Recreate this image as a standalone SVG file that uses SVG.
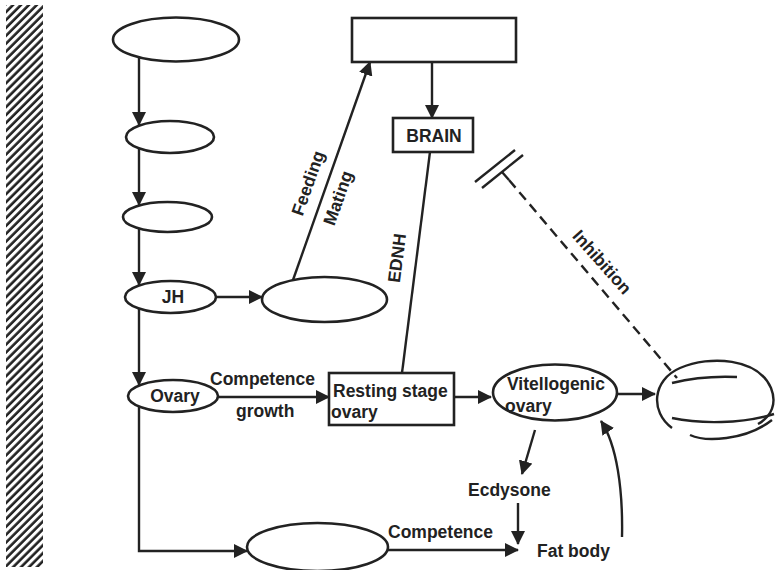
<svg xmlns="http://www.w3.org/2000/svg" width="776" height="570" viewBox="0 0 776 570">
<defs>
<pattern id="hatch" width="5.6" height="5.6" patternUnits="userSpaceOnUse" patternTransform="rotate(45)">
<rect width="5.6" height="5.6" fill="#fff"/>
<line x1="1.5" y1="0" x2="1.5" y2="5.6" stroke="#222" stroke-width="2.6"/>
</pattern>
<marker id="ah" viewBox="0 0 14 14" refX="13" refY="7" markerWidth="14" markerHeight="14" markerUnits="userSpaceOnUse" orient="auto">
<path d="M0,0 L14,7 L0,14 z" fill="#222"/>
</marker>
<style>
.n{fill:#fff;stroke:#222;stroke-width:2.6}
.c{fill:none;stroke:#222;stroke-width:2.4}
.a{fill:none;stroke:#222;stroke-width:2.4;marker-end:url(#ah)}
.d{fill:none;stroke:#222;stroke-width:2.4;stroke-dasharray:10 6}
.t{font-family:"Liberation Sans",Arial,sans-serif;font-weight:bold;font-size:17.5px;fill:#222}
.m{text-anchor:middle}
</style>
</defs>
<rect x="6" y="5" width="37" height="562" fill="url(#hatch)"/>

<g id="connectors">
<line class="a" x1="139" y1="57" x2="139" y2="125"/>
<line class="a" x1="139" y1="148" x2="139" y2="205"/>
<line class="a" x1="139" y1="228" x2="139" y2="285"/>
<line class="a" x1="139" y1="308" x2="139" y2="385"/>
<polyline class="a" points="139,406 139,551 247,551"/>
<line class="a" x1="216" y1="297" x2="262" y2="297"/>
<line class="a" x1="293" y1="280" x2="370" y2="62"/>
<line class="a" x1="432" y1="62" x2="432" y2="118"/>
<line class="c" x1="430" y1="152" x2="402" y2="373"/>
<line class="a" x1="218" y1="397" x2="329" y2="397"/>
<line class="a" x1="454" y1="397" x2="491" y2="397"/>
<line class="a" x1="617" y1="394" x2="655" y2="394"/>
<line class="a" x1="535" y1="430" x2="522" y2="474"/>
<line class="a" x1="518" y1="503" x2="518" y2="544"/>
<line class="a" x1="388" y1="550" x2="518" y2="550"/>
<path class="a" d="M622,537 C623,490 617,445 601,421"/>
<line class="c" x1="502" y1="172" x2="509" y2="180"/>
<line class="d" x1="509" y1="180" x2="677" y2="378"/>
<line class="c" x1="475" y1="182" x2="515" y2="150"/>
<line class="c" x1="482" y1="188" x2="523" y2="155"/>
<text class="t m" transform="translate(308,183) rotate(-70.7)" y="6">Feeding</text>
<text class="t m" transform="translate(338,198) rotate(-70.7)" y="6">Mating</text>
<text class="t m" transform="translate(397,258) rotate(-82.8)" y="6">EDNH</text>
<text class="t m" transform="translate(602,262) rotate(48.5)" y="6">Inhibition</text>
<text class="t" x="210" y="385">Competence</text>
<text class="t" x="236" y="417">growth</text>
<text class="t" x="388" y="538">Competence</text>
</g>

<g id="n-top"><ellipse class="n" cx="176" cy="39.5" rx="63" ry="22"/></g>
<g id="n-2"><ellipse class="n" cx="170" cy="137" rx="44" ry="16"/></g>
<g id="n-3"><ellipse class="n" cx="167.5" cy="217" rx="44.5" ry="15"/></g>
<g id="n-jh"><ellipse class="n" cx="170.5" cy="297" rx="45.5" ry="16"/><text class="t m" x="173" y="303">JH</text></g>
<g id="n-jhtarget"><ellipse class="n" cx="324.5" cy="299.5" rx="62.5" ry="22.5"/></g>
<g id="n-toprect"><rect class="n" x="352" y="18" width="164" height="44"/></g>
<g id="n-brain"><rect class="n" x="393" y="118" width="80" height="34"/><text class="t m" x="434" y="142">BRAIN</text></g>
<g id="n-ovary"><ellipse class="n" cx="173" cy="396" rx="45" ry="16"/><text class="t m" x="175" y="402">Ovary</text></g>
<g id="n-resting"><rect class="n" x="329" y="373" width="125" height="52"/><text class="t" x="333" y="397">Resting stage</text><text class="t" x="331" y="418">ovary</text></g>
<g id="n-vitello"><ellipse class="n" cx="555" cy="392.5" rx="62" ry="28"/><text class="t" x="507" y="390">Vitellogenic</text><text class="t" x="505" y="412">ovary</text></g>
<g id="n-egg">
<path class="c" d="M672,428 C650,412 652,380 680,368 C710,355 758,358 771,388 C777,403 772,416 758,424"/>
<path class="c" d="M690,435 C705,442 745,441 772,420"/>
<path class="c" d="M672,383 C692,378 715,376 737,377"/>
<path class="c" d="M672,418 C700,424 742,424 774,414"/>
</g>
<g id="n-bottom"><ellipse class="n" cx="317.5" cy="547" rx="70.5" ry="24"/></g>
<g id="n-ecdysone"><text class="t" x="468" y="496">Ecdysone</text></g>
<g id="n-fatbody"><text class="t" x="537" y="557">Fat body</text></g>
</svg>
